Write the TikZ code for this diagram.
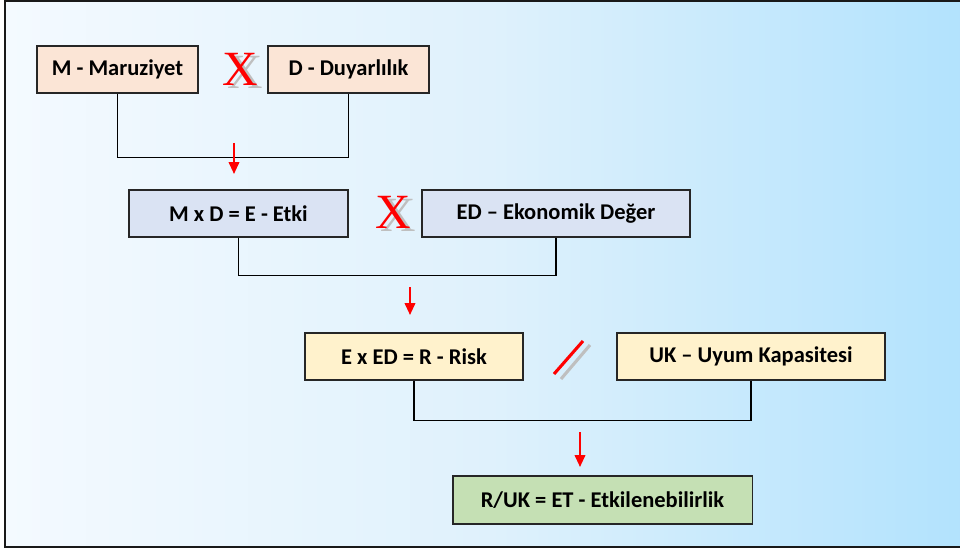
\documentclass[tikz,border=0pt]{standalone}
\usepackage{fontspec}
\setmainfont{Carlito}
\newfontfamily\timesfont{Liberation Serif}
\usetikzlibrary{arrows.meta,shadows}

\definecolor{peach}{HTML}{FBE5D6}
\definecolor{lavender}{HTML}{DAE3F3}
\definecolor{cream}{HTML}{FFF2CC}
\definecolor{sage}{HTML}{C5E0B4}
\definecolor{bgleft}{HTML}{F4FAFF}
\definecolor{bgmid}{HTML}{DFF1FC}
\definecolor{bgright}{HTML}{B1E2FD}

% gray shadow behind a red cross
\newcommand{\shadowx}{\makebox[0pt][l]{\hspace{0.14cm}\raisebox{-0.08cm}{\color{black!25}X}}\color{red}X}

\tikzset{
  box/.style={draw=black!85, line width=0.9pt, minimum height=1.18cm, inner sep=0pt,
    font=\bfseries\fontsize{16}{19}\selectfont,
    drop shadow={shadow xshift=0.7pt, shadow yshift=-0.7pt, opacity=0.7, fill=black!55}},
  link/.style={line width=0.9pt},
  redarrow/.style={red, line width=1.4pt, -{Triangle[width=7.5pt,length=8.5pt]}},
  timesmark/.style={font=\timesfont\fontsize{35}{35}\selectfont, inner sep=0pt},
  slashline/.style={line width=2.2pt}
}

\begin{document}
\begin{tikzpicture}[x=0.025cm, y=-0.025cm]
\clip (0,0) rectangle (960,551);
\useasboundingbox (0,0) rectangle (960,551);
% Background
\shade[left color=bgleft, right color=bgright, middle color=bgmid] (5,1) rectangle (975,547);
\draw[line width=1.2pt, black!90] (5,1) rectangle (975,547);

% Nodes
\node[box, fill=peach, minimum width=4.03cm] (M) at (117.5,69.5) {M - Maruziyet};
\node[box, fill=peach, minimum width=4.03cm] (D) at (348.5,69.5) {D - Duyarlılık};
\node[box, fill=lavender, minimum width=5.48cm] (E) at (238.5,213.5) {M x D = E - Etki};
\node[box, fill=lavender, minimum width=6.7cm] (ED) at (556,213.5) {ED – Ekonomik Değer};
\node[box, fill=cream, minimum width=5.45cm] (R) at (414,356.5) {E x ED = R - Risk};
\node[box, fill=cream, minimum width=6.7cm] (UK) at (751,356.5) {UK – Uyum Kapasitesi};
\node[box, fill=sage, minimum width=7.48cm, minimum height=1.2cm] (ET) at (602.5,500) {R/UK = ET - Etkilenebilirlik};

% Operators
\node[timesmark] (x1) at (240,71) {\shadowx};
\node[timesmark] (x2) at (393,214) {\shadowx};
\coordinate (sg1) at (561,379);
\coordinate (sg2) at (590,345);
\coordinate (s1) at (554,374);
\coordinate (s2) at (583,341);
\draw[slashline, black!25] (sg1) -- (sg2);
\draw[slashline, red] (s1) -- (s2);

% Links
\draw[link] (M.south) -- ++(0,63.5) -| (D.south);
\draw[link] (E.south) -- ++(0,38) -| (ED.south);
\draw[link] (R.south) -- ++(0,40) -| (UK.south);

% Arrows
\coordinate (a1) at (234,143);
\coordinate (b1) at (234,174);
\coordinate (a2) at (410,287);
\coordinate (b2) at (410,315);
\coordinate (a3) at (580,432);
\coordinate (b3) at (580,467);
\draw[redarrow] (a1) -- (b1);
\draw[redarrow] (a2) -- (b2);
\draw[redarrow] (a3) -- (b3);
\end{tikzpicture}
\end{document}
